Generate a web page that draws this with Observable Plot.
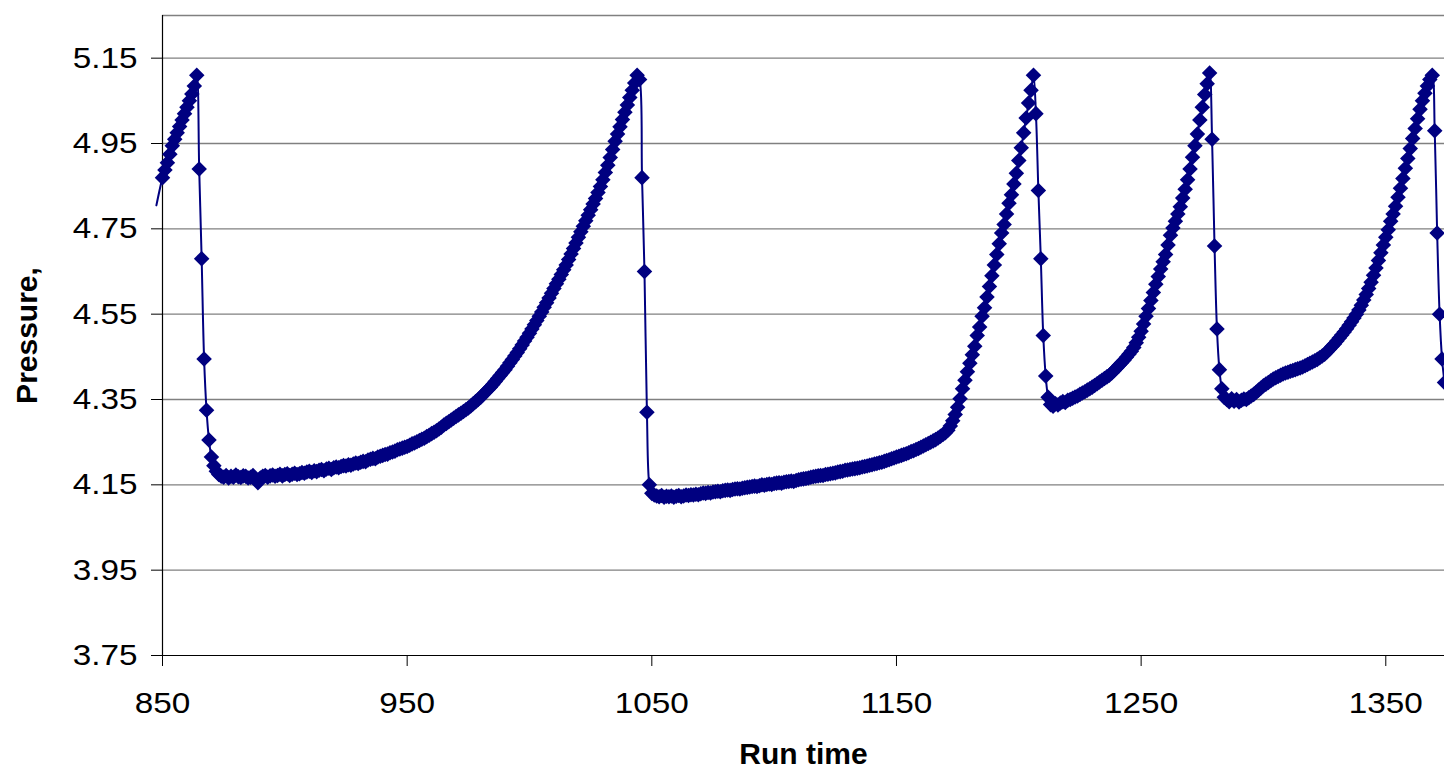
<!DOCTYPE html>
<html>
<head>
<meta charset="utf-8">
<script src="https://cdn.jsdelivr.net/npm/d3@7"></script>
<script src="https://cdn.jsdelivr.net/npm/@observablehq/plot@0.6"></script>
<style>
  html, body { margin: 0; padding: 0; background: #ffffff; }
  #chart svg { display: block; }
</style>
</head>
<body>
<div id="chart"></div>
<script>
// ---- data (one sample per run-time unit) ----
const cycleStarts = [850, 1046, 1207, 1279, 1370];

const cycle1 = [
  4.870, 4.888, 4.905, 4.925, 4.945, 4.960, 4.975, 4.990, 5.005, 5.020, 5.035, 5.050, 5.066, 5.085, 5.110,
  4.890, 4.680, 4.445, 4.325, 4.255, 4.215, 4.195, 4.182, 4.174, 4.170, 4.168,
  4.172, 4.166, 4.170, 4.168, 4.173, 4.169, 4.167, 4.171, 4.170, 4.166, 4.168, 4.172, 4.163, 4.155,
  4.166, 4.170, 4.172, 4.168, 4.171, 4.173, 4.170, 4.172, 4.175, 4.171, 4.174, 4.176, 4.172, 4.175, 4.177, 4.174,
  4.176, 4.179, 4.177, 4.180, 4.182, 4.179, 4.183, 4.181, 4.184, 4.186, 4.183, 4.187, 4.189, 4.186, 4.190, 4.192, 4.190, 4.193, 4.195, 4.194, 4.197, 4.196, 4.199, 4.201, 4.200,
  4.203, 4.205, 4.204, 4.208, 4.210, 4.212, 4.211, 4.215, 4.217, 4.219, 4.221, 4.222, 4.225, 4.227, 4.229, 4.232, 4.234, 4.236, 4.238, 4.240,
  4.243, 4.246, 4.248, 4.251, 4.254, 4.257, 4.259, 4.263, 4.266, 4.270, 4.273, 4.277, 4.281, 4.285, 4.290, 4.294, 4.298, 4.302, 4.306, 4.310, 4.314, 4.318, 4.322, 4.326, 4.330,
  4.335, 4.340, 4.345, 4.350, 4.355, 4.361, 4.367, 4.373, 4.379, 4.385, 4.392, 4.399, 4.406, 4.413, 4.420, 4.428, 4.436, 4.444, 4.452, 4.460, 4.469, 4.478, 4.487, 4.496, 4.505,
  4.515, 4.525, 4.535, 4.545, 4.555, 4.566, 4.577, 4.588, 4.599, 4.610, 4.621, 4.632, 4.643, 4.654, 4.665, 4.678, 4.691, 4.704, 4.717, 4.730, 4.743, 4.756, 4.769, 4.782, 4.795,
  4.808, 4.821, 4.835, 4.849, 4.865, 4.882, 4.899, 4.917, 4.936, 4.955, 4.972, 4.989, 5.006, 5.023, 5.040, 5.058, 5.075, 5.092, 5.110, 5.100
];

const cycle2 = [
  4.870, 4.650, 4.320, 4.150, 4.130,
  4.126, 4.124, 4.122, 4.125, 4.121, 4.123, 4.122, 4.124, 4.121, 4.123, 4.125, 4.122, 4.124, 4.126, 4.125, 4.127, 4.126, 4.128, 4.127, 4.129, 4.131, 4.130, 4.132, 4.131, 4.133,
  4.134, 4.135, 4.134, 4.136, 4.137, 4.138, 4.137, 4.139, 4.140, 4.141, 4.140, 4.142, 4.143, 4.144, 4.145, 4.146, 4.147, 4.146, 4.148, 4.150, 4.149, 4.151, 4.152, 4.151, 4.153,
  4.154, 4.155, 4.154, 4.156, 4.157, 4.158, 4.159, 4.158, 4.160, 4.162, 4.163, 4.164, 4.165, 4.166, 4.168, 4.169, 4.170, 4.171, 4.172, 4.172, 4.174, 4.175, 4.176, 4.177, 4.178,
  4.180, 4.181, 4.182, 4.184, 4.185, 4.186, 4.187, 4.188, 4.189, 4.190, 4.192, 4.193, 4.194, 4.196, 4.197, 4.199, 4.200, 4.202, 4.203, 4.205, 4.207, 4.209, 4.211, 4.213, 4.215,
  4.217, 4.219, 4.221, 4.223, 4.225, 4.228, 4.230, 4.233, 4.235, 4.238, 4.241, 4.244, 4.247, 4.250, 4.253, 4.256, 4.260, 4.264, 4.268, 4.272, 4.278, 4.288, 4.300, 4.315, 4.332, 4.352, 4.375,
  4.395, 4.415, 4.435, 4.455, 4.475, 4.500, 4.520, 4.545, 4.565, 4.590, 4.615, 4.640, 4.665, 4.690, 4.715, 4.740, 4.760, 4.785, 4.810, 4.830, 4.855, 4.880, 4.910, 4.940, 4.975, 5.010, 5.045, 5.075, 5.110
];

const cycle3 = [
  5.020, 4.840, 4.680, 4.500, 4.405, 4.355,
  4.338, 4.334, 4.340, 4.337, 4.342, 4.345, 4.343, 4.348, 4.350, 4.353, 4.356, 4.358, 4.362, 4.365, 4.368, 4.372, 4.375, 4.379, 4.383, 4.387, 4.391, 4.395, 4.399, 4.403, 4.407,
  4.412, 4.418, 4.424, 4.430, 4.436, 4.442, 4.449, 4.456, 4.463, 4.472, 4.483, 4.496, 4.510, 4.527, 4.545, 4.563, 4.582, 4.601, 4.620, 4.638, 4.656, 4.673, 4.690, 4.712, 4.735, 4.752, 4.768, 4.785, 4.802, 4.822, 4.843, 4.865, 4.890, 4.918, 4.945, 4.972, 5.005, 5.035, 5.065, 5.090, 5.115
];

const cycle4 = [
  4.960, 4.710, 4.515, 4.420, 4.375,
  4.355, 4.350, 4.345, 4.352, 4.346, 4.350, 4.344, 4.348, 4.351, 4.350, 4.354, 4.358, 4.362, 4.367, 4.372, 4.377, 4.382,
  4.386, 4.390, 4.394, 4.398, 4.401, 4.404, 4.407, 4.410, 4.412, 4.414, 4.416, 4.418, 4.420, 4.422, 4.424, 4.426, 4.429, 4.432, 4.435, 4.438, 4.441, 4.444, 4.448, 4.452, 4.456,
  4.462, 4.468, 4.474, 4.480, 4.487, 4.494, 4.501, 4.508, 4.516, 4.524, 4.532, 4.541, 4.550, 4.560, 4.571, 4.583, 4.596, 4.610, 4.625, 4.641, 4.658, 4.676, 4.694, 4.712, 4.730,
  4.748, 4.768, 4.785, 4.803, 4.824, 4.845, 4.868, 4.892, 4.915, 4.938, 4.962, 4.985, 5.008, 5.030, 5.050, 5.068, 5.085, 5.100, 5.110
];

const cycle5 = [4.980, 4.740, 4.550, 4.445, 4.390];

// line enters from just before the first plotted marker
const leadInTime = 847.5;
const leadInPressure = 4.805;

const xTicks = [850, 950, 1050, 1150, 1250, 1350];
const yTicks = [3.75, 3.95, 4.15, 4.35, 4.55, 4.75, 4.95, 5.15];
const gridValues = [3.95, 4.15, 4.35, 4.55, 4.75, 4.95, 5.15, 5.25];
const xDomain = [850, 1374];
const yDomain = [3.75, 5.25];
const xLabel = "Run time";
const yLabel = "Pressure,";

// ---- build table ----
const cycles = [cycle1, cycle2, cycle3, cycle4, cycle5];
const samples = cycles.flatMap((vals, c) =>
  vals.map((p, i) => ({time: cycleStarts[c] + i, pressure: p}))
);
const lineData = [{time: leadInTime, pressure: leadInPressure}, ...samples];

const navy = "#000080";
const font = "'Liberation Sans', Arial, Helvetica, sans-serif";

const chart = Plot.plot({
  width: 1444,
  height: 769,
  marginTop: 15,
  marginBottom: 114,
  marginLeft: 162,
  marginRight: 0,
  style: {fontFamily: font, fontSize: "30px", background: "#ffffff", color: "#000000", overflow: "visible"},
  x: {domain: xDomain, ticks: xTicks, tickFormat: d => String(d), tickSize: 11, tickPadding: 25, label: null},
  y: {domain: yDomain, ticks: yTicks, tickFormat: d => d.toFixed(2), tickSize: 11, tickPadding: 14, label: null},
  marks: [
    Plot.ruleY(gridValues, {stroke: "#808080", strokeWidth: 1.3}),
    Plot.ruleY([yDomain[0]], {stroke: "#000000", strokeWidth: 1.2}),
    Plot.ruleX([xDomain[0]], {stroke: "#000000", strokeWidth: 1.2}),
    Plot.line(lineData, {x: "time", y: "pressure", stroke: navy, strokeWidth: 2, curve: "catmull-rom"}),
    Plot.dot(samples, {x: "time", y: "pressure", symbol: "diamond2", r: 7, fill: navy}),
    Plot.text([xLabel], {text: d => d, frameAnchor: "bottom", lineAnchor: "middle", textAnchor: "middle", dy: 99, fontWeight: "bold", fontSize: 30, fill: "#000000"}),
    Plot.text([yLabel], {text: d => d, frameAnchor: "left", lineAnchor: "middle", textAnchor: "middle", rotate: -90, dx: -135, fontWeight: "bold", fontSize: 30, fill: "#000000"})
  ]
});

document.getElementById("chart").appendChild(chart);

// slightly widen the tick labels, as in the reference
chart.querySelectorAll('g[aria-label="x-axis tick label"] text, g[aria-label="y-axis tick label"] text').forEach(t => {
  const w = t.getComputedTextLength();
  if (w > 0) {
    t.setAttribute("textLength", (w * 1.11).toFixed(1));
    t.setAttribute("lengthAdjust", "spacingAndGlyphs");
  }
});
</script>
</body>
</html>
